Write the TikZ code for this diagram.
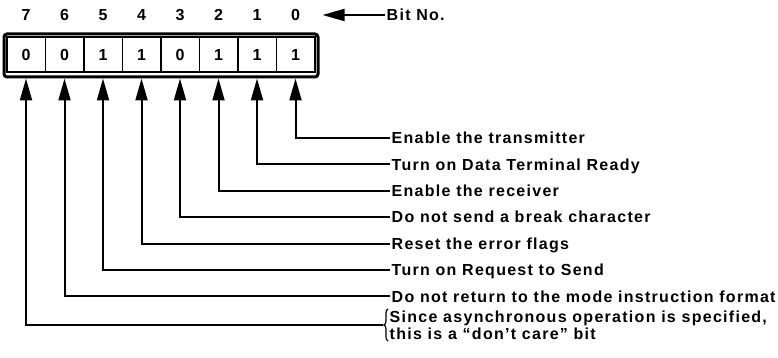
\documentclass[tikz,border=0pt]{standalone}
\usepackage{fontspec}
\setmainfont{Liberation Sans}[LetterSpace=8, UprightFont=*-Bold]
\usetikzlibrary{arrows.meta,decorations.pathreplacing}

\begin{document}
\begin{tikzpicture}[x=1pt,y=-1pt]
	\tikzstyle{every node} = [font=\fontsize{16}{17}\selectfont, inner sep=1.5pt];
	\tikzstyle{bitcell} = [draw, line width=1.5pt, minimum width=38.5pt, minimum height=35pt];
	\tikzstyle{ptr} = [line width=2pt, -{Triangle[length=22pt,width=12pt]}];
	\tikzstyle{txt} = [anchor=west, text height=11.5pt, text depth=0pt];
	\useasboundingbox (0,0) rectangle (778,358);
	% register and bit numbers
	\node[draw, line width=3pt, rounded corners=3pt, minimum width=314pt, minimum height=43pt] (reg) at (161,55.5) {};
	\foreach \b/\v [count=\i from 0] in {7/0,6/0,5/1,4/1,3/0,2/1,1/1,0/1} {
		\node[bitcell] (c\b) at (26+38.5*\i,54.5) {\v};
		\node[txt, anchor=center] (n\b) at (26+38.5*\i,15) {\b};
		}
	\node[txt] (bitno) at (385,15) {Bit No.};
	\draw[ptr, shorten >=3pt] (bitno.west) -- (reg.east |- bitno.west);
	% meaning of each bit
	\foreach \b/\t [count=\k from 0] in {0/Enable the transmitter,
		1/Turn on Data Terminal Ready,
		2/Enable the receiver,
		3/Do not send a break character,
		4/Reset the error flags,
		5/Turn on Request to Send,
		6/Do not return to the mode instruction format} {
		\node[txt] (t\b) at (390,138+26.4*\k) {\t};
		\draw[ptr] (t\b.west) -| (c\b.south |- reg.south);
		}
	\node[anchor=west, align=left] (t7) at (388,325) {Since asynchronous operation is specified,\\this is a ``don't care'' bit};
	\draw[line width=1.2pt, decorate, decoration={brace, amplitude=4pt}] (t7.south west) -- (t7.north west);
	\coordinate (b7) at ([xshift=-5pt]t7.west);
	\draw[ptr] (b7) -| (c7.south |- reg.south);
\end{tikzpicture}
\end{document}
